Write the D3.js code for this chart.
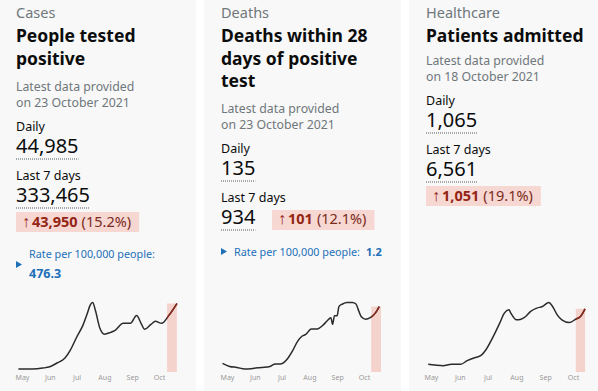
<!DOCTYPE html>
<html><head><meta charset="utf-8">
<script src="https://cdn.jsdelivr.net/npm/d3@7"></script>
<style>body{margin:0;background:#fff;} svg{display:block;font-family:"Noto Sans",sans-serif;}</style>
</head><body><svg id="c" width="598" height="391"></svg>
<script>
// ---------- data ----------
const categories = ["Cases", "Deaths", "Healthcare"];
const titles = [["People tested", "positive"], ["Deaths within 28", "days of positive", "test"], ["Patients admitted"]];
const latestDates = ["on 23 October 2021", "on 23 October 2021", "on 18 October 2021"];
const dailyValues = ["44,985", "135", "1,065"];
const weeklyValues = ["333,465", "934", "6,561"];
const changeValues = ["43,950", "101", "1,051"];
const changePercents = ["(15.2%)", "(12.1%)", "(19.1%)"];
const rateValues = ["476.3", "1.2", null];

const casesDates = ["2021-04-27","2021-05-13","2021-05-24","2021-06-01","2021-06-09","2021-06-18","2021-06-24","2021-07-01","2021-07-08","2021-07-13","2021-07-16","2021-07-19","2021-07-22","2021-07-27","2021-08-01","2021-08-08","2021-08-13","2021-08-22","2021-08-30","2021-09-06","2021-09-11","2021-09-15","2021-09-22","2021-09-27","2021-10-04","2021-10-12","2021-10-21"];
const casesValues = [2060,2100,2700,3600,6200,9600,15100,24000,32200,40500,46000,48000,42500,30200,26100,27400,28800,33600,33600,39100,33600,29500,32900,35000,33600,39100,47300];

const deathsDates = ["2021-04-26","2021-05-04","2021-05-12","2021-05-21","2021-05-30","2021-06-08","2021-06-18","2021-06-24","2021-06-30","2021-07-08","2021-07-13","2021-07-19","2021-07-24","2021-07-28","2021-08-03","2021-08-10","2021-08-16","2021-08-21","2021-08-25","2021-08-27","2021-08-29","2021-09-01","2021-09-03","2021-09-07","2021-09-12","2021-09-18","2021-09-22","2021-09-25","2021-09-28","2021-10-03","2021-10-08","2021-10-14","2021-10-18"];
const deathsValues = [17,11,9,6,7,9,11,16,16,27,41,61,71,74,85,85,92,101,107,94,111,111,129,134,137,137,134,121,109,104,107,117,129];

const admissionsDates = ["2021-04-28","2021-05-05","2021-05-14","2021-05-23","2021-06-02","2021-06-09","2021-06-17","2021-06-23","2021-06-29","2021-07-07","2021-07-14","2021-07-19","2021-07-24","2021-07-26","2021-08-01","2021-08-06","2021-08-11","2021-08-16","2021-08-23","2021-08-29","2021-09-05","2021-09-09","2021-09-14","2021-09-19","2021-09-27","2021-10-04","2021-10-09","2021-10-14"];
const admissionsValues = [112,101,91,112,112,164,207,232,319,512,706,851,899,851,754,764,802,874,924,947,1005,947,827,754,715,764,802,914];

const shadeStarts = ["2021-10-10", "2021-10-09", "2021-10-04"];
const shadeEnds = ["2021-10-21", "2021-10-20", "2021-10-14"];
const monthTicks = ["2021-05-01","2021-06-01","2021-07-01","2021-08-01","2021-09-01","2021-10-01"];

// ---------- layout ----------
const svg = d3.select("#c");
const parse = d3.timeParse("%Y-%m-%d");
const cardX = [0, 204, 409], cardW = [196, 197, 189], inset = [16, 17, 17];
const chartRange = [[22, 159], [227, 364], [431, 573]];
const latestY = [91, 113, 65];
const series = [[casesDates, casesValues], [deathsDates, deathsValues], [admissionsDates, admissionsValues]];
const grey = "#6f777b", ink = "#0b0c0c", red = "#942514", blue = "#1d70b8";

function underline(g, x, y, t) {
  const w = t.node().getComputedTextLength();
  g.append("line").attr("x1", x).attr("x2", x + w).attr("y1", y).attr("y2", y)
    .attr("stroke", "#505a5f").attr("stroke-width", 1).attr("stroke-dasharray", "1,1");
}

categories.forEach((cat, i) => {
  const g = svg.append("g");
  g.append("rect").attr("x", cardX[i]).attr("y", 0).attr("width", cardW[i]).attr("height", 391).attr("fill", "#f8f8f8");
  const tx = cardX[i] + inset[i];
  g.append("text").attr("x", tx).attr("y", 18).attr("font-size", 14.5).attr("fill", grey).text(cat);
  titles[i].forEach((ln, k) => g.append("text").attr("x", tx).attr("y", 42 + k * 22.5)
    .attr("font-size", 17.5).attr("font-weight", 700).attr("fill", ink).text(ln));
  const ly = latestY[i];
  g.append("text").attr("x", tx).attr("y", ly).attr("font-size", 12.3).attr("fill", grey).text("Latest data provided");
  g.append("text").attr("x", tx).attr("y", ly + 16).attr("font-size", 12.3).attr("fill", grey).text(latestDates[i]);
  const dy = ly + 40;
  g.append("text").attr("x", tx).attr("y", dy).attr("font-size", 12.5).attr("fill", ink).text("Daily");
  const dn = g.append("text").attr("x", tx).attr("y", dy + 22).attr("font-size", 20).attr("fill", ink).text(dailyValues[i]);
  underline(g, tx, dy + 28, dn);
  const wy = dy + 49;
  g.append("text").attr("x", tx).attr("y", wy).attr("font-size", 12.5).attr("fill", ink).text("Last 7 days");
  const wn = g.append("text").attr("x", tx).attr("y", wy + 22).attr("font-size", 20).attr("fill", ink).text(weeklyValues[i]);
  underline(g, tx, wy + 28, wn);
  // change box
  const inline = i === 1;
  const bx = inline ? tx + 51 : tx;
  const by = inline ? wy + 8 : wy + 32;
  const tb = inline ? wy + 22 : wy + 47;
  const box = g.append("rect").attr("x", bx).attr("y", by).attr("height", 20).attr("fill", "#f6d7d2");
  const ct = g.append("text").attr("x", bx + 6).attr("y", tb).attr("font-size", 14.5).attr("fill", red);
  ct.append("tspan").attr("font-weight", 700).attr("font-size", 16).text("\u2191");
  ct.append("tspan").attr("font-weight", 700).attr("dx", 2).text(changeValues[i]);
  ct.append("tspan").attr("dx", 4).attr("fill", "#7a2a20").text(changePercents[i]);
  box.attr("width", ct.node().getComputedTextLength() + 20);
  // rate
  if (rateValues[i] !== null) {
    const ry = by + 46;
    g.append("path").attr("d", `M${tx},${inline ? ry - 8 : ry + 3}l6,3.5l-6,3.5z`).attr("fill", blue);
    const rt = g.append("text").attr("x", tx + 13).attr("y", ry).attr("font-size", 10.8).attr("fill", blue).text("Rate per 100,000 people:");
    if (inline) {
      g.append("text").attr("x", tx + 13 + rt.node().getComputedTextLength() + 6).attr("y", ry)
        .attr("font-size", 11).attr("font-weight", 700).attr("fill", blue).text(rateValues[i]);
    } else {
      g.append("text").attr("x", tx + 13).attr("y", ry + 20).attr("font-size", 12.5).attr("font-weight", 700).attr("fill", blue).text(rateValues[i]);
    }
  }
  // chart
  const [ds, vs] = series[i];
  const data = ds.map((d, k) => ({ date: parse(d), value: vs[k] }));
  const x = d3.scaleTime().domain([parse(monthTicks[0]), parse(monthTicks[5])]).range(chartRange[i]);
  const y = d3.scaleLinear().domain([0, d3.max(vs)]).range([372, 302.5]);
  const s0 = parse(shadeStarts[i]), s1 = parse(shadeEnds[i]);
  const inWin = data.filter(d => d.date >= s0);
  g.append("rect").attr("x", x(s0)).attr("width", x(s1) - x(s0))
    .attr("y", y(d3.max(inWin, d => d.value))).attr("height", 372 - y(d3.max(inWin, d => d.value)))
    .attr("fill", "#f5d3cd");
  const line = d3.line().x(d => x(d.date)).y(d => y(d.value)).curve(d3.curveMonotoneX);
  g.append("path").datum(data).attr("d", line).attr("fill", "none").attr("stroke", "#2b2b2b").attr("stroke-width", 1.5);
  const cid = "clip" + i;
  g.append("clipPath").attr("id", cid).append("rect").attr("x", x(s0)).attr("y", 280).attr("width", x(s1) - x(s0) + 4).attr("height", 100);
  g.append("path").datum(data).attr("d", line).attr("fill", "none").attr("stroke", "#8e2a1c").attr("stroke-width", 1.5).attr("clip-path", `url(#${cid})`);
  const ax = g.append("g").attr("transform", "translate(0,372)")
    .call(d3.axisBottom(x).tickValues(monthTicks.map(parse)).tickFormat(d3.timeFormat("%b")).tickSize(0).tickPadding(3));
  ax.select(".domain").remove();
  ax.selectAll("text").attr("font-size", 7).attr("fill", "#999").attr("font-family", "\"Noto Sans\", sans-serif");
});
</script></body></html>
